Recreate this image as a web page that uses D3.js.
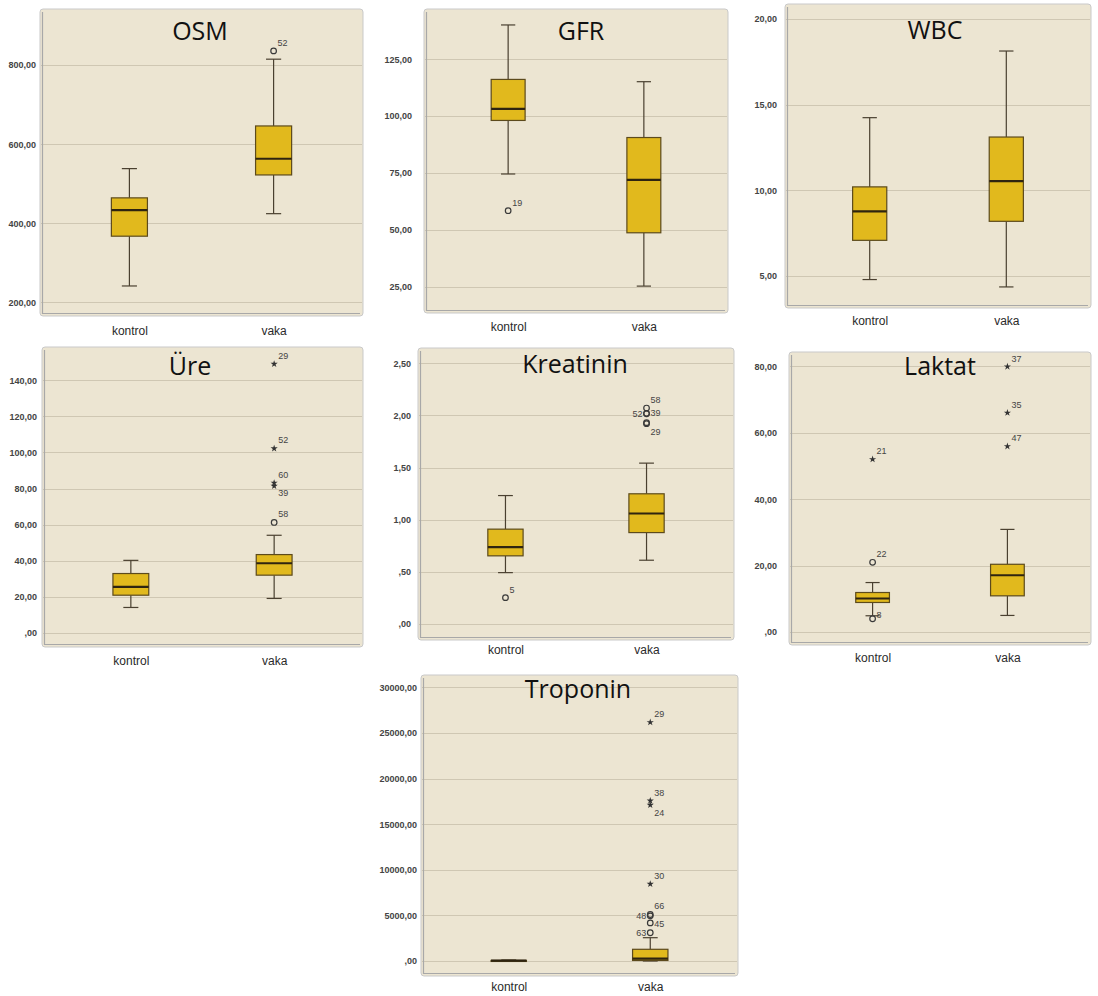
<!DOCTYPE html>
<html>
<head>
<meta charset="utf-8">
<script src="https://cdn.jsdelivr.net/npm/d3@7/dist/d3.min.js"></script>
<style>
  html, body { margin: 0; padding: 0; background: #ffffff; }
  svg { display: block; }
</style>
</head>
<body>
<svg id="chart" width="1098" height="996"></svg>
<script>
// ---- data ---------------------------------------------------------------
const categories = ["kontrol", "vaka"];

// box summaries: [lower whisker, Q1, median, Q3, upper whisker]
const osmBoxes      = [[241, 367, 433, 464, 538], [424, 522, 563, 646, 815]];
const gfrBoxes      = [[74.6, 98.1, 103.2, 116.1, 140], [25.4, 48.8, 72, 90.6, 115.1]];
const wbcBoxes      = [[4.79, 7.08, 8.77, 10.2, 14.24], [4.36, 8.19, 10.54, 13.11, 18.13]];
const ureBoxes      = [[14.1, 20.9, 25.5, 32.9, 40.2], [19.1, 32.0, 38.6, 43.4, 54.1]];
const kreatininBoxes= [[0.492, 0.653, 0.736, 0.909, 1.231], [0.611, 0.876, 1.059, 1.248, 1.542]];
const laktatBoxes   = [[4.9, 8.9, 10.1, 11.9, 14.9], [5.0, 10.9, 17.1, 20.4, 30.9]];
const troponinBoxes = [[0, 10, 30, 60, 110], [0, 60, 250, 1283, 2555]];

// outlying cases: group, value, case number, kind ("o" = outlier, "*" = extreme)
const osmOutliers = [
  { group: "vaka", value: 836, id: "52", kind: "o" }
];
const gfrOutliers = [
  { group: "kontrol", value: 58.5, id: "19", kind: "o" }
];
const wbcOutliers = [];
const ureOutliers = [
  { group: "vaka", value: 61.2, id: "58", kind: "o" },
  { group: "vaka", value: 81.4, id: "39", kind: "*" },
  { group: "vaka", value: 83.1, id: "60", kind: "*" },
  { group: "vaka", value: 102.2, id: "52", kind: "*" },
  { group: "vaka", value: 149, id: "29", kind: "*" }
];
const kreatininOutliers = [
  { group: "kontrol", value: 0.252, id: "5", kind: "o" },
  { group: "vaka", value: 1.92, id: "", kind: "o" },
  { group: "vaka", value: 1.93, id: "29", kind: "o" },
  { group: "vaka", value: 2.015, id: "52", kind: "o" },
  { group: "vaka", value: 2.02, id: "39", kind: "o" },
  { group: "vaka", value: 2.07, id: "58", kind: "o" }
];
const laktatOutliers = [
  { group: "kontrol", value: 4.0, id: "8", kind: "o" },
  { group: "kontrol", value: 21.0, id: "22", kind: "o" },
  { group: "kontrol", value: 52.0, id: "21", kind: "*" },
  { group: "vaka", value: 55.9, id: "47", kind: "*" },
  { group: "vaka", value: 66.0, id: "35", kind: "*" },
  { group: "vaka", value: 79.9, id: "37", kind: "*" }
];
const troponinOutliers = [
  { group: "vaka", value: 3100, id: "63", kind: "o" },
  { group: "vaka", value: 4180, id: "45", kind: "o" },
  { group: "vaka", value: 4950, id: "48", kind: "o" },
  { group: "vaka", value: 5100, id: "66", kind: "o" },
  { group: "vaka", value: 8443, id: "30", kind: "*" },
  { group: "vaka", value: 17105, id: "24", kind: "*" },
  { group: "vaka", value: 17576, id: "38", kind: "*" },
  { group: "vaka", value: 26173, id: "29", kind: "*" }
];

// tick values of each value axis
const osmTicks       = [200, 400, 600, 800];
const gfrTicks       = [25, 50, 75, 100, 125];
const wbcTicks       = [5, 10, 15, 20];
const ureTicks       = [0, 20, 40, 60, 80, 100, 120, 140];
const kreatininTicks = [0, 0.5, 1, 1.5, 2, 2.5];
const laktatTicks    = [0, 20, 40, 60, 80];
const troponinTicks  = [0, 5000, 10000, 15000, 20000, 25000, 30000];

// ---- panel layout -------------------------------------------------------
const panels = [
  { title: "OSM", boxes: osmBoxes, outliers: osmOutliers, ticks: osmTicks,
    frame: [40, 9, 363, 316], domain: [165, 942], labelGap: 4, catGap: 10, title_xy: [200, 40] },
  { title: "GFR", boxes: gfrBoxes, outliers: gfrOutliers, ticks: gfrTicks,
    frame: [424, 9, 728, 313], domain: [13.6, 147], labelGap: 12, catGap: 9, title_xy: [581, 40] },
  { title: "WBC", boxes: wbcBoxes, outliers: wbcOutliers, ticks: wbcTicks,
    frame: [785, 4, 1091, 308], domain: [3.13, 20.875], labelGap: 8, catGap: 8, title_xy: [935, 39] },
  { title: "Üre", boxes: ureBoxes, outliers: ureOutliers, ticks: ureTicks,
    frame: [42, 347, 363, 647], domain: [-7.8, 158.4], labelGap: 5, catGap: 9, title_xy: [190, 375] },
  { title: "Kreatinin", boxes: kreatininBoxes, outliers: kreatininOutliers, ticks: kreatininTicks,
    frame: [418, 348, 734, 640], domain: [-0.154, 2.646], labelGap: 7, catGap: 5, title_xy: [575, 373] },
  { title: "Laktat", boxes: laktatBoxes, outliers: laktatOutliers, ticks: laktatTicks,
    frame: [789, 352, 1091, 645], domain: [-3.9, 84.3], labelGap: 12, catGap: 8, title_xy: [940, 375] },
  { title: "Troponin", boxes: troponinBoxes, outliers: troponinOutliers, ticks: troponinTicks,
    frame: [421, 675, 738, 976], domain: [-1645, 31360], labelGap: 4, catGap: 6, title_xy: [578, 698] }
];

// where a case label sits relative to its mark: [dx, dy, anchor]
const labelSpots = {
  "Üre:39": [4, 10, "start"],
  "Kreatinin:52": [-4, 3, "end"],
  "Kreatinin:39": [4, 3, "start"],
  "Kreatinin:29": [4, 12, "start"],
  "Laktat:8": [4, -1, "start"],
  "Troponin:48": [-4, 3, "end"],
  "Troponin:45": [4, 4, "start"],
  "Troponin:63": [-4, 3, "end"],
  "Troponin:24": [4, 11, "start"]
};

// ---- drawing ------------------------------------------------------------
const svg = d3.select("#chart");
const colors = {
  panel: "#ece5d2",
  grid: "#cfc7b3",
  border: "#c9c9c9",
  axisShade: "#a8a8a8",
  boxFill: "#e1b91d",
  boxStroke: "#5c4a1c",
  median: "#2e2410",
  whisker: "#4a4030",
  text: "#333333"
};

// SPSS-style numbers: comma decimal, no leading zero below one
function spssNumber(v) {
  let s = d3.format(".2f")(v).replace(".", ",");
  if (s.startsWith("0,")) s = s.slice(1);
  return s;
}

const starPath = d3.symbol().type(d3.symbolStar).size(16)();

panels.forEach((p, i) => {
  const [x0, y0, x1, y1] = p.frame;
  const g = svg.append("g").attr("class", "panel");

  const clipId = "clip" + i;
  svg.append("clipPath").attr("id", clipId)
    .append("rect").attr("x", x0).attr("y", y0).attr("width", x1 - x0).attr("height", y1 - y0);

  const y = d3.scaleLinear().domain(p.domain).range([y1, y0]);
  const x = d3.scalePoint().domain(categories).range([x0, x1]).padding(0.62);
  const step = x.step();
  const boxW = step * 0.25;
  const capW = boxW * 0.42;

  // plotting background
  g.append("rect")
    .attr("x", x0).attr("y", y0)
    .attr("width", x1 - x0).attr("height", y1 - y0)
    .attr("rx", 3)
    .attr("fill", colors.panel)
    .attr("stroke", colors.border)
    .attr("stroke-width", 1);

  // horizontal gridlines
  g.append("g").selectAll("line").data(p.ticks).join("line")
    .attr("x1", x0 + 1).attr("x2", x1 - 1)
    .attr("y1", d => Math.round(y(d)) + 0.5).attr("y2", d => Math.round(y(d)) + 0.5)
    .attr("stroke", colors.grid).attr("stroke-width", 1.2);

  // left and bottom axis shading
  g.append("path")
    .attr("d", `M${x0 + 2.5},${y0 + 3}V${y1 - 2.5}H${x1 - 3}`)
    .attr("fill", "none").attr("stroke", colors.axisShade).attr("stroke-width", 1.2);

  // value axis labels
  const yAxis = d3.axisLeft(y).tickValues(p.ticks).tickFormat(spssNumber).tickSize(0).tickPadding(p.labelGap);
  const ax = g.append("g").attr("transform", `translate(${x0},0)`).call(yAxis);
  ax.select(".domain").remove();
  ax.selectAll("text")
    .attr("font-family", "'Liberation Sans', Arial, sans-serif")
    .attr("font-size", 9)
    .attr("font-weight", "bold")
    .attr("fill", "#444");

  // category labels
  const xAxis = d3.axisBottom(x).tickSize(0).tickPadding(p.catGap);
  const bx = g.append("g").attr("transform", `translate(0,${y1})`).call(xAxis);
  bx.select(".domain").remove();
  bx.selectAll("text")
    .attr("font-family", "'Liberation Sans', Arial, sans-serif")
    .attr("font-size", 12)
    .attr("fill", "#2a2a2a");

  const marks = g.append("g").attr("clip-path", `url(#${clipId})`);

  // boxes and whiskers
  p.boxes.forEach((b, k) => {
    const cx = x(categories[k]);
    const [lo, q1, med, q3, hi] = b;
    const bg = marks.append("g");
    bg.append("line")
      .attr("x1", cx).attr("x2", cx).attr("y1", y(hi)).attr("y2", y(q3))
      .attr("stroke", colors.whisker).attr("stroke-width", 1.2);
    bg.append("line")
      .attr("x1", cx).attr("x2", cx).attr("y1", y(q1)).attr("y2", y(lo))
      .attr("stroke", colors.whisker).attr("stroke-width", 1.2);
    [lo, hi].forEach(v => {
      bg.append("line")
        .attr("x1", cx - capW / 2).attr("x2", cx + capW / 2)
        .attr("y1", y(v)).attr("y2", y(v))
        .attr("stroke", colors.whisker).attr("stroke-width", 1.2);
    });
    bg.append("rect")
      .attr("x", cx - boxW / 2).attr("y", y(q3))
      .attr("width", boxW).attr("height", Math.max(1, y(q1) - y(q3)))
      .attr("fill", colors.boxFill)
      .attr("stroke", colors.boxStroke).attr("stroke-width", 1.2);
    bg.append("line")
      .attr("x1", cx - boxW / 2).attr("x2", cx + boxW / 2)
      .attr("y1", y(med)).attr("y2", y(med))
      .attr("stroke", colors.median).attr("stroke-width", 2.2);
  });

  // outlying cases
  p.outliers.forEach(o => {
    const cx = x(o.group), cy = y(o.value);
    if (o.kind === "o") {
      marks.append("circle")
        .attr("cx", cx).attr("cy", cy).attr("r", 2.8)
        .attr("fill", "none").attr("stroke", "#3a3a3a").attr("stroke-width", 1.2);
    } else {
      marks.append("path")
        .attr("d", starPath)
        .attr("transform", `translate(${cx},${cy})`)
        .attr("fill", "#333");
    }
    if (o.id) {
      const spot = labelSpots[p.title + ":" + o.id] || [4, -5, "start"];
      marks.append("text")
        .attr("x", cx + spot[0]).attr("y", cy + spot[1])
        .attr("text-anchor", spot[2])
        .attr("font-family", "'Liberation Sans', Arial, sans-serif")
        .attr("font-size", 9)
        .attr("fill", "#444")
        .text(o.id);
    }
  });

  // panel title
  g.append("text")
    .attr("x", p.title_xy[0]).attr("y", p.title_xy[1])
    .attr("text-anchor", "middle")
    .attr("font-family", "'Open Sans', sans-serif")
    .attr("font-size", 25)
    .attr("fill", "#111")
    .text(p.title);
});
</script>
</body>
</html>
